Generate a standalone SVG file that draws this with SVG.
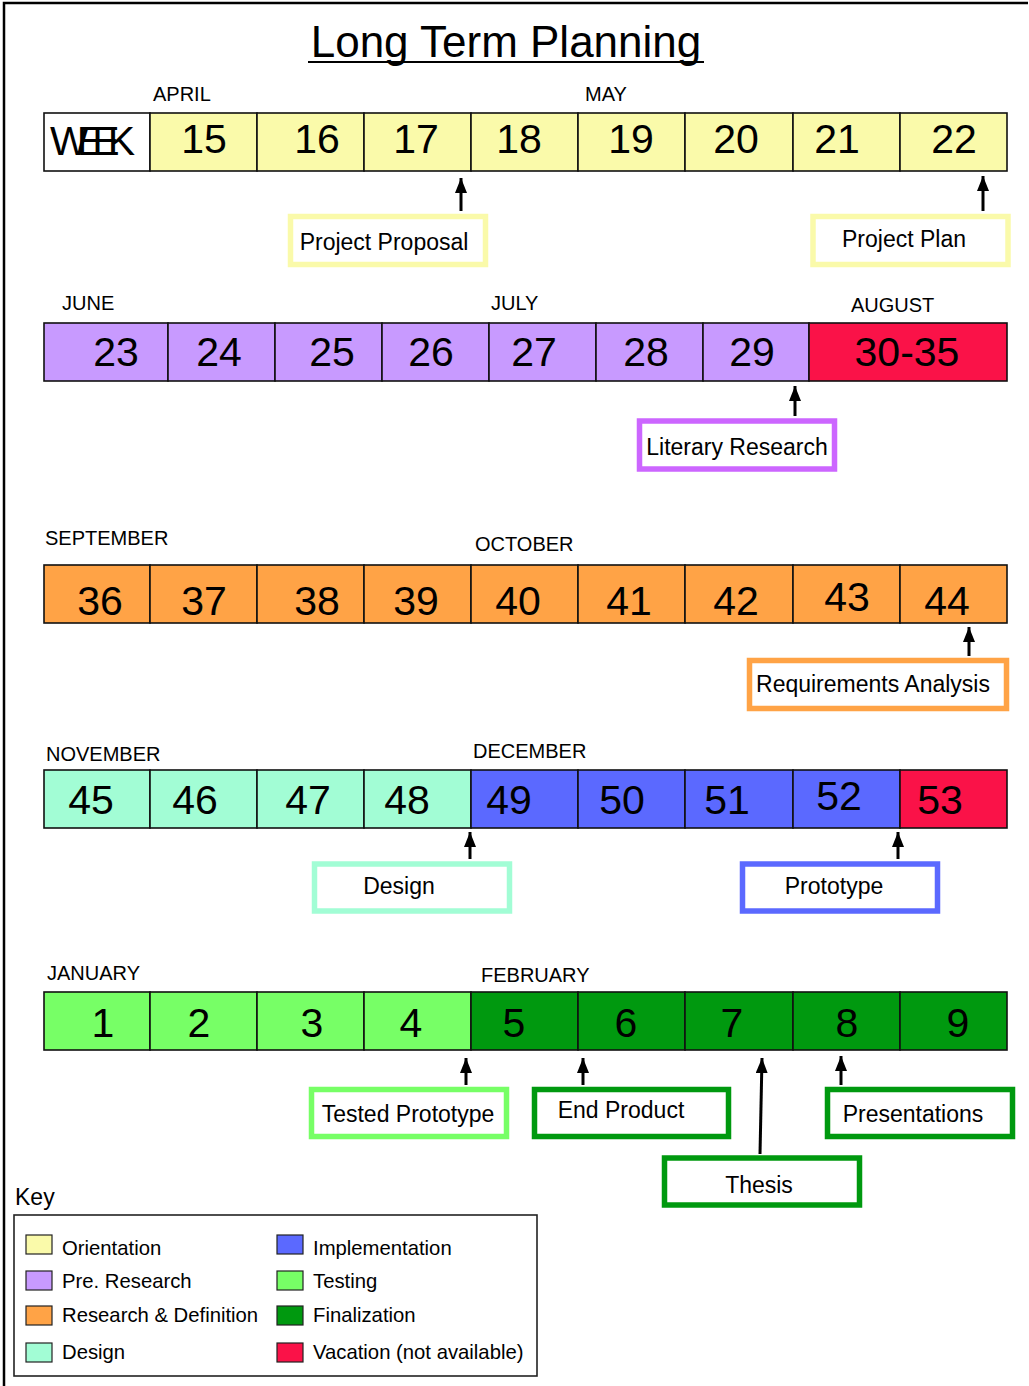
<svg xmlns="http://www.w3.org/2000/svg" width="1029" height="1386" viewBox="0 0 1029 1386">
<style>
  text { font-family: "Liberation Sans", Arial, sans-serif; fill: #000; }
  .cell { stroke: #111; stroke-width: 1.6; }
  .num { font-size: 41px; text-anchor: middle; }
  .month { font-size: 20px; }
  .lbl { font-size: 23px; text-anchor: middle; }
  .box { fill: #fff; stroke-width: 5.5; }
  .key { font-size: 20.3px; }
  .sw { stroke: #222; stroke-width: 1.2; }
  .y { fill: #FAFAAA; } .p { fill: #C89AFF; } .r { fill: #FA1248; } .o { fill: #FFA346; }
  .m { fill: #A2FDD5; } .b { fill: #5B69FF; } .lg { fill: #77FF66; } .dg { fill: #00990F; } .w { fill: #fff; }
  .conn { stroke: #000; stroke-width: 3; fill: none; }
</style>
<defs>
  <marker id="arrow" markerUnits="userSpaceOnUse" markerWidth="15" markerHeight="12" refX="15" refY="6" orient="auto">
    <path d="M0,0 L15,6 L0,12 z" fill="#000"/>
  </marker>
</defs>
<rect x="0" y="0" width="1029" height="1386" fill="#fff"/>
<path d="M4,1386 V3 H1028" fill="none" stroke="#000" stroke-width="2.5"/>

<g id="title">
  <text x="506" y="57" font-size="44" text-anchor="middle">Long Term Planning</text>
  <line x1="308" y1="62" x2="704" y2="62" stroke="#000" stroke-width="2.2"/>
</g>

<g id="row1">
  <text class="month" x="153" y="101">APRIL</text>
  <text class="month" x="585" y="101">MAY</text>
  <rect class="cell w" x="44" y="113" width="106" height="58"/>
  <rect class="cell y" x="150" y="113" width="107" height="58"/>
  <rect class="cell y" x="257" y="113" width="107" height="58"/>
  <rect class="cell y" x="364" y="113" width="107" height="58"/>
  <rect class="cell y" x="471" y="113" width="107" height="58"/>
  <rect class="cell y" x="578" y="113" width="107" height="58"/>
  <rect class="cell y" x="685" y="113" width="108" height="58"/>
  <rect class="cell y" x="793" y="113" width="107" height="58"/>
  <rect class="cell y" x="900" y="113" width="107" height="58"/>
  <text x="50" y="155" font-size="41" textLength="85" lengthAdjust="spacing">WEEK</text>
  <text class="num" x="204" y="153">15</text>
  <text class="num" x="317" y="153">16</text>
  <text class="num" x="416" y="153">17</text>
  <text class="num" x="519" y="153">18</text>
  <text class="num" x="631" y="153">19</text>
  <text class="num" x="736" y="153">20</text>
  <text class="num" x="837" y="153">21</text>
  <text class="num" x="954" y="153">22</text>
</g>

<g id="row2">
  <text class="month" x="62" y="310">JUNE</text>
  <text class="month" x="491" y="310">JULY</text>
  <text class="month" x="851" y="312">AUGUST</text>
  <rect class="cell p" x="44" y="323" width="124" height="58"/>
  <rect class="cell p" x="168" y="323" width="107" height="58"/>
  <rect class="cell p" x="275" y="323" width="107" height="58"/>
  <rect class="cell p" x="382" y="323" width="107" height="58"/>
  <rect class="cell p" x="489" y="323" width="107" height="58"/>
  <rect class="cell p" x="596" y="323" width="107" height="58"/>
  <rect class="cell p" x="703" y="323" width="106" height="58"/>
  <rect class="cell r" x="809" y="323" width="198" height="58"/>
  <text class="num" x="116" y="366">23</text>
  <text class="num" x="219" y="366">24</text>
  <text class="num" x="332" y="366">25</text>
  <text class="num" x="431" y="366">26</text>
  <text class="num" x="534" y="366">27</text>
  <text class="num" x="646" y="366">28</text>
  <text class="num" x="752" y="366">29</text>
  <text class="num" x="907" y="366">30-35</text>
</g>

<g id="row3">
  <text class="month" x="45" y="545">SEPTEMBER</text>
  <text class="month" x="475" y="551">OCTOBER</text>
  <rect class="cell o" x="44" y="565" width="106" height="58"/>
  <rect class="cell o" x="150" y="565" width="107" height="58"/>
  <rect class="cell o" x="257" y="565" width="107" height="58"/>
  <rect class="cell o" x="364" y="565" width="107" height="58"/>
  <rect class="cell o" x="471" y="565" width="107" height="58"/>
  <rect class="cell o" x="578" y="565" width="107" height="58"/>
  <rect class="cell o" x="685" y="565" width="108" height="58"/>
  <rect class="cell o" x="793" y="565" width="107" height="58"/>
  <rect class="cell o" x="900" y="565" width="107" height="58"/>
  <text class="num" x="100" y="615">36</text>
  <text class="num" x="204" y="615">37</text>
  <text class="num" x="317" y="615">38</text>
  <text class="num" x="416" y="615">39</text>
  <text class="num" x="518" y="615">40</text>
  <text class="num" x="629" y="615">41</text>
  <text class="num" x="736" y="615">42</text>
  <text class="num" x="847" y="611">43</text>
  <text class="num" x="947" y="615">44</text>
</g>

<g id="row4">
  <text class="month" x="46" y="761">NOVEMBER</text>
  <text class="month" x="473" y="758">DECEMBER</text>
  <rect class="cell m" x="44" y="770" width="106" height="58"/>
  <rect class="cell m" x="150" y="770" width="107" height="58"/>
  <rect class="cell m" x="257" y="770" width="107" height="58"/>
  <rect class="cell m" x="364" y="770" width="107" height="58"/>
  <rect class="cell b" x="471" y="770" width="107" height="58"/>
  <rect class="cell b" x="578" y="770" width="107" height="58"/>
  <rect class="cell b" x="685" y="770" width="108" height="58"/>
  <rect class="cell b" x="793" y="770" width="107" height="58"/>
  <rect class="cell r" x="900" y="770" width="107" height="58"/>
  <text class="num" x="91" y="814">45</text>
  <text class="num" x="195" y="814">46</text>
  <text class="num" x="308" y="814">47</text>
  <text class="num" x="407" y="814">48</text>
  <text class="num" x="509" y="814">49</text>
  <text class="num" x="622" y="814">50</text>
  <text class="num" x="727" y="814">51</text>
  <text class="num" x="839" y="810">52</text>
  <text class="num" x="940" y="814">53</text>
</g>

<g id="row5">
  <text class="month" x="47" y="980">JANUARY</text>
  <text class="month" x="481" y="982">FEBRUARY</text>
  <rect class="cell lg" x="44" y="992" width="106" height="58"/>
  <rect class="cell lg" x="150" y="992" width="107" height="58"/>
  <rect class="cell lg" x="257" y="992" width="107" height="58"/>
  <rect class="cell lg" x="364" y="992" width="107" height="58"/>
  <rect class="cell dg" x="471" y="992" width="107" height="58"/>
  <rect class="cell dg" x="578" y="992" width="107" height="58"/>
  <rect class="cell dg" x="685" y="992" width="108" height="58"/>
  <rect class="cell dg" x="793" y="992" width="107" height="58"/>
  <rect class="cell dg" x="900" y="992" width="107" height="58"/>
  <text class="num" x="103" y="1037">1</text>
  <text class="num" x="199" y="1037">2</text>
  <text class="num" x="312" y="1037">3</text>
  <text class="num" x="411" y="1037">4</text>
  <text class="num" x="514" y="1037">5</text>
  <text class="num" x="626" y="1037">6</text>
  <text class="num" x="732" y="1037">7</text>
  <text class="num" x="847" y="1037">8</text>
  <text class="num" x="958" y="1037">9</text>
</g>

<g id="project-proposal">
  <rect class="box" x="290.5" y="216.5" width="195" height="48" stroke="#FAFAAA"/>
  <text class="lbl" x="384" y="250">Project Proposal</text>
</g>
<g id="project-plan">
  <rect class="box" x="813" y="216.5" width="195" height="48" stroke="#FAFAAA"/>
  <text class="lbl" x="904" y="247">Project Plan</text>
</g>
<g id="literary-research">
  <rect class="box" x="639.5" y="421" width="195" height="48" stroke="#CC66FF"/>
  <text class="lbl" x="737" y="455">Literary Research</text>
</g>
<g id="requirements-analysis">
  <rect class="box" x="749.5" y="660.5" width="257" height="48" stroke="#FFA346"/>
  <text class="lbl" x="873" y="692">Requirements Analysis</text>
</g>
<g id="design">
  <rect class="box" x="314.5" y="864" width="195" height="47" stroke="#A2FDD5"/>
  <text class="lbl" x="399" y="894">Design</text>
</g>
<g id="prototype">
  <rect class="box" x="742.5" y="864" width="195" height="47" stroke="#5B69FF"/>
  <text class="lbl" x="834" y="894">Prototype</text>
</g>
<g id="tested-prototype">
  <rect class="box" x="311.5" y="1089.5" width="195" height="47" stroke="#77FF66"/>
  <text class="lbl" x="408" y="1122">Tested Prototype</text>
</g>
<g id="end-product">
  <rect class="box" x="534.5" y="1089.5" width="194" height="47" stroke="#00990F"/>
  <text class="lbl" x="621" y="1118">End Product</text>
</g>
<g id="thesis">
  <rect class="box" x="664.5" y="1158" width="195" height="47" stroke="#00990F"/>
  <text class="lbl" x="759" y="1193">Thesis</text>
</g>
<g id="presentations">
  <rect class="box" x="827.5" y="1089.5" width="185" height="47" stroke="#00990F"/>
  <text class="lbl" x="913" y="1122">Presentations</text>
</g>

<g id="connectors">
  <line class="conn" x1="461" y1="211" x2="461" y2="178" marker-end="url(#arrow)"/>
  <line class="conn" x1="983" y1="211" x2="983" y2="176" marker-end="url(#arrow)"/>
  <line class="conn" x1="795" y1="416" x2="795" y2="386" marker-end="url(#arrow)"/>
  <line class="conn" x1="969" y1="656" x2="969" y2="627" marker-end="url(#arrow)"/>
  <line class="conn" x1="470" y1="859" x2="470" y2="832" marker-end="url(#arrow)"/>
  <line class="conn" x1="898" y1="859" x2="898" y2="832" marker-end="url(#arrow)"/>
  <line class="conn" x1="466" y1="1085" x2="466" y2="1058" marker-end="url(#arrow)"/>
  <line class="conn" x1="583" y1="1085" x2="583" y2="1058" marker-end="url(#arrow)"/>
  <line class="conn" x1="760" y1="1154" x2="762" y2="1058" marker-end="url(#arrow)"/>
  <line class="conn" x1="841" y1="1085" x2="841" y2="1056" marker-end="url(#arrow)"/>
</g>

<g id="key">
  <text x="15" y="1205" font-size="23">Key</text>
  <rect x="14" y="1215" width="523" height="161" fill="#fff" stroke="#222" stroke-width="1.6"/>
  <rect class="sw y" x="26" y="1235" width="26" height="19"/>
  <text class="key" x="62" y="1255">Orientation</text>
  <rect class="sw p" x="26" y="1271" width="26" height="19"/>
  <text class="key" x="62" y="1288">Pre. Research</text>
  <rect class="sw o" x="26" y="1306" width="26" height="19"/>
  <text class="key" x="62" y="1322">Research &amp; Definition</text>
  <rect class="sw m" x="26" y="1343" width="26" height="19"/>
  <text class="key" x="62" y="1359">Design</text>
  <rect class="sw b" x="277" y="1235" width="26" height="19"/>
  <text class="key" x="313" y="1255">Implementation</text>
  <rect class="sw lg" x="277" y="1271" width="26" height="19"/>
  <text class="key" x="313" y="1288">Testing</text>
  <rect class="sw dg" x="277" y="1306" width="26" height="19"/>
  <text class="key" x="313" y="1322">Finalization</text>
  <rect class="sw r" x="277" y="1343" width="26" height="19"/>
  <text class="key" x="313" y="1359">Vacation (not available)</text>
</g>
</svg>
